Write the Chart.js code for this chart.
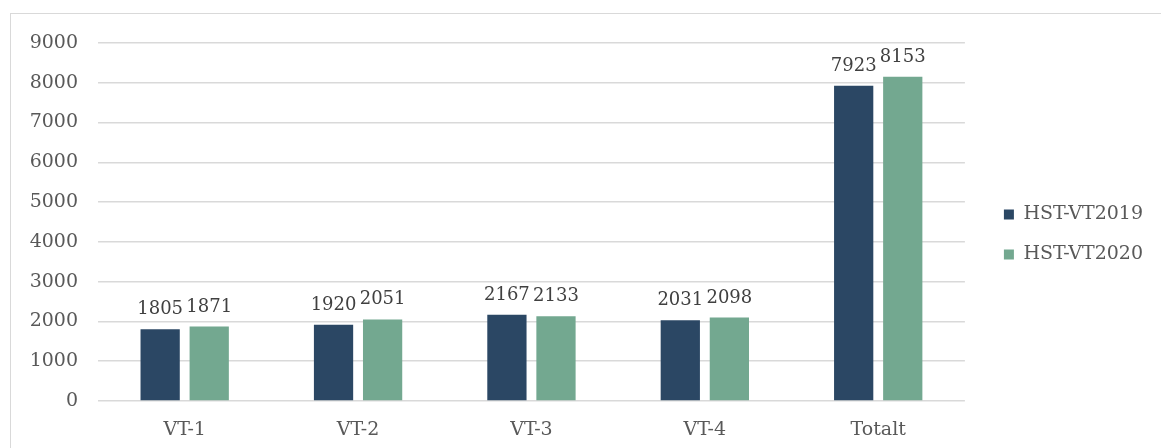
<!DOCTYPE html>
<html>
<head>
<meta charset="utf-8">
<script src="https://cdn.jsdelivr.net/npm/chart.js@4/dist/chart.umd.min.js"></script>
<style>
  html, body { margin: 0; padding: 0; width: 1161px; height: 448px; overflow: hidden; background: #fff; }
  #frame { position: absolute; left: 10px; top: 13px; width: 1200px; height: 500px; border: 1px solid #d9d9d9; box-sizing: border-box; }
  #c { position: absolute; left: 0; top: 0; }
</style>
</head>
<body>
<div id="frame"></div>
<canvas id="c" width="1161" height="448"></canvas>
<script>
const categories = ['VT-1', 'VT-2', 'VT-3', 'VT-4', 'Totalt'];
const seriesNames = ['HST-VT2019', 'HST-VT2020'];
const values2019 = [1805, 1920, 2167, 2031, 7923];
const values2020 = [1871, 2051, 2133, 2098, 8153];
const yTicks = [0, 1000, 2000, 3000, 4000, 5000, 6000, 7000, 8000, 9000];

const FONT = 'DejaVu Serif';
const TEXT = '#595959';

const barLabels = {
  id: 'barLabels',
  afterDatasetsDraw(chart) {
    const ctx = chart.ctx;
    ctx.save();
    ctx.font = '18px "' + FONT + '"';
    ctx.fillStyle = '#404040';
    ctx.textAlign = 'center';
    ctx.textBaseline = 'alphabetic';
    chart.data.datasets.forEach((ds, i) => {
      const meta = chart.getDatasetMeta(i);
      meta.data.forEach((el, j) => {
        ctx.fillText(String(ds.data[j]), el.x, el.y - 15);
      });
    });
    ctx.restore();
  }
};

new Chart(document.getElementById('c'), {
  type: 'bar',
  data: {
    labels: categories,
    datasets: [
      { label: seriesNames[0], data: values2019, backgroundColor: '#2b4764', borderWidth: 0 },
      { label: seriesNames[1], data: values2020, backgroundColor: '#73a890', borderWidth: 0 }
    ]
  },
  options: {
    responsive: false,
    animation: false,
    categoryPercentage: 0.566,
    barPercentage: 0.8,
    layout: { padding: { top: 30, left: 30, right: 8, bottom: 9 } },
    plugins: {
      tooltip: { enabled: false },
      legend: {
        position: 'right',
        align: 'center',
        labels: {
          boxWidth: 10,
          boxHeight: 10,
          padding: 21,
          color: TEXT,
          font: { family: FONT, size: 19 }
        }
      }
    },
    scales: {
      x: {
        grid: { display: false, drawTicks: false },
        border: { display: false },
        ticks: { color: TEXT, font: { family: FONT, size: 19 }, padding: 18 },
        afterFit(scale) { scale.height = 38; }
      },
      xPad: {
        type: 'linear',
        axis: 'x',
        position: 'top',
        display: true,
        grid: { display: false, drawTicks: false },
        border: { display: false },
        ticks: { display: false },
        afterFit(scale) { scale.height = 13; }
      },
      y: {
        min: 0,
        max: 9000,
        afterBuildTicks(scale) { scale.ticks = yTicks.map(v => ({ value: v })); },
        grid: { color: '#d9d9d9', lineWidth: 1.5, drawTicks: false },
        border: { display: false },
        ticks: { color: TEXT, font: { family: FONT, size: 19 }, padding: 20, callback: (v) => String(v) },
        afterFit(scale) { scale.width = 68; }
      },
      yPad: {
        position: 'right',
        display: true,
        grid: { display: false, drawTicks: false },
        border: { display: false },
        ticks: { display: false },
        afterFit(scale) { scale.width = 18; }
      }
    }
  },
  plugins: [barLabels]
});
</script>
</body>
</html>
